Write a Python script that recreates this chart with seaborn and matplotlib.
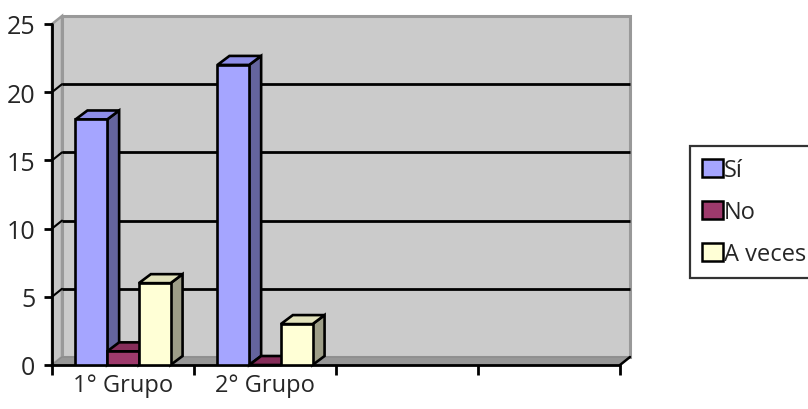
import numpy as np
import pandas as pd
import matplotlib
matplotlib.use("Agg")
import matplotlib.pyplot as plt
from matplotlib.patches import Polygon, Patch
import seaborn as sns

# ---- data ----
categories = ["1° Grupo", "2° Grupo"]
series = ["Sí", "No", "A veces"]
si = [18, 22]
no = [1, 0]
a_veces = [6, 3]
y_ticks = [0, 5, 10, 15, 20, 25]

front_colors = {"Sí": "#a5a5ff", "No": "#9e3a6c", "A veces": "#ffffd6"}
top_colors = {"Sí": "#8e8ee8", "No": "#862d5a", "A veces": "#e2e2bc"}
side_colors = {"Sí": "#64649e", "No": "#5e1f3f", "A veces": "#9e9e88"}

df = pd.DataFrame({
    "grupo": categories * 3,
    "serie": [s for s in series for _ in categories],
    "valor": si + no + a_veces,
})

sns.set_style("white")
plt.rcParams["font.family"] = ["Open Sans", "DejaVu Sans"]

fig = plt.figure(figsize=(8.08, 4.10), dpi=100)
ax = fig.add_axes([52 / 808, 1 - 366 / 410, 568 / 808, 341 / 410])

LW = 1.9
sns.barplot(data=df, x="grupo", y="valor", hue="serie", order=categories,
            hue_order=series, palette=front_colors, width=0.67,
            edgecolor="black", linewidth=LW, saturation=1, legend=False, ax=ax)

ax.set_xlim(-0.5, 3.5)
ax.set_ylim(0, 25)
for s in ax.spines.values():
    s.set_visible(False)
ax.set_xlabel("")
ax.set_ylabel("")
ax.set_facecolor("none")

# pixel -> data offsets
def off(px, py):
    inv = ax.transData.inverted()
    o = ax.transData.transform((0, 0))
    p = inv.transform((o[0] + px, o[1] + py))
    q = inv.transform(o)
    return p[0] - q[0], p[1] - q[1]

wdx, wdy = off(10, 8)
bdx, bdy = off(12, 9)
x0, x1 = -0.5, 3.5

# back wall
ax.add_patch(Polygon([(x0 + wdx, wdy), (x1 + wdx, wdy), (x1 + wdx, 25 + wdy), (x0 + wdx, 25 + wdy)],
                     closed=True, facecolor="#cbcbcb", edgecolor="#999999", lw=2.2,
                     zorder=0.2, clip_on=False))
# left wall
ax.add_patch(Polygon([(x0, 0), (x0 + wdx, wdy), (x0 + wdx, 25 + wdy), (x0, 25)],
                     closed=True, facecolor="#c6c6c6", edgecolor="#999999", lw=1.8,
                     zorder=0.3, clip_on=False))
# floor
ax.add_patch(Polygon([(x0, 0), (x1, 0), (x1 + wdx, wdy), (x0 + wdx, wdy)],
                     closed=True, facecolor="#979797", edgecolor="#8a8a8a", lw=0.8,
                     zorder=0.4, clip_on=False))
# gridlines
for t in y_ticks[1:-1]:
    ax.plot([x0 + wdx, x1 + wdx], [t + wdy, t + wdy], color="black", lw=2.0,
            zorder=0.5, clip_on=False, solid_capstyle="butt")
    ax.plot([x0, x0 + wdx], [t, t + wdy], color="black", lw=1.5, zorder=0.5, clip_on=False)
# axes lines
ax.plot([x0, x0], [0, 25], color="black", lw=2.0, zorder=1, clip_on=False)
ax.plot([x0, x1], [0, 0], color="black", lw=2.0, zorder=1, clip_on=False)
ax.plot([x1, x1 + wdx], [0, wdy], color="black", lw=1.8, zorder=1, clip_on=False)

# 3D bar faces
bars = sorted([p for p in ax.patches if p.get_zorder() >= 1], key=lambda p: p.get_x())
hue_of = {matplotlib.colors.to_hex(front_colors[s]): s for s in series}
for i, b in enumerate(bars):
    bx, bw, bh = b.get_x(), b.get_width(), b.get_height()
    s = hue_of.get(matplotlib.colors.to_hex(b.get_facecolor()), "Sí")
    z = 3 + 2 * i
    ax.add_patch(Polygon([(bx + bw, 0), (bx + bw + bdx, bdy), (bx + bw + bdx, bh + bdy), (bx + bw, bh)],
                         closed=True, facecolor=side_colors[s], edgecolor="black", lw=LW,
                         zorder=z, clip_on=False))
    ax.add_patch(Polygon([(bx, bh), (bx + bw, bh), (bx + bw + bdx, bh + bdy), (bx + bdx, bh + bdy)],
                         closed=True, facecolor=top_colors[s], edgecolor="black", lw=LW,
                         zorder=z, clip_on=False))
    b.set_zorder(z + 1)

# ticks
ax.set_yticks(y_ticks)
ax.set_yticklabels([str(t) for t in y_ticks])
ax.set_xticks(range(len(categories)))
ax.set_xticklabels(categories)
ax.set_xticks(np.arange(x0, x1 + 0.01, 1.0), minor=True)
ax.tick_params(axis="y", which="major", direction="out", length=6, width=2,
               color="black", labelsize=18, pad=6, left=True)
ax.tick_params(axis="x", which="major", length=0, labelsize=17, pad=6)
ax.tick_params(axis="x", which="minor", direction="out", length=7, width=2,
               color="black", bottom=True)
ax.grid(False)

# legend
handles = [Patch(facecolor=front_colors[s], edgecolor="black", lw=1.8) for s in series]
leg = fig.legend(handles, series, loc="upper left", bbox_to_anchor=(690 / 808, 1 - 147 / 410),
                 frameon=True, fancybox=False, fontsize=17, handlelength=0.88,
                 handleheight=0.76, handletextpad=0.05, labelspacing=0.76,
                 borderpad=0.52, borderaxespad=0)
leg.get_frame().set_edgecolor("black")
leg.get_frame().set_linewidth(1.6)

fig.savefig("out.png", dpi=100)
